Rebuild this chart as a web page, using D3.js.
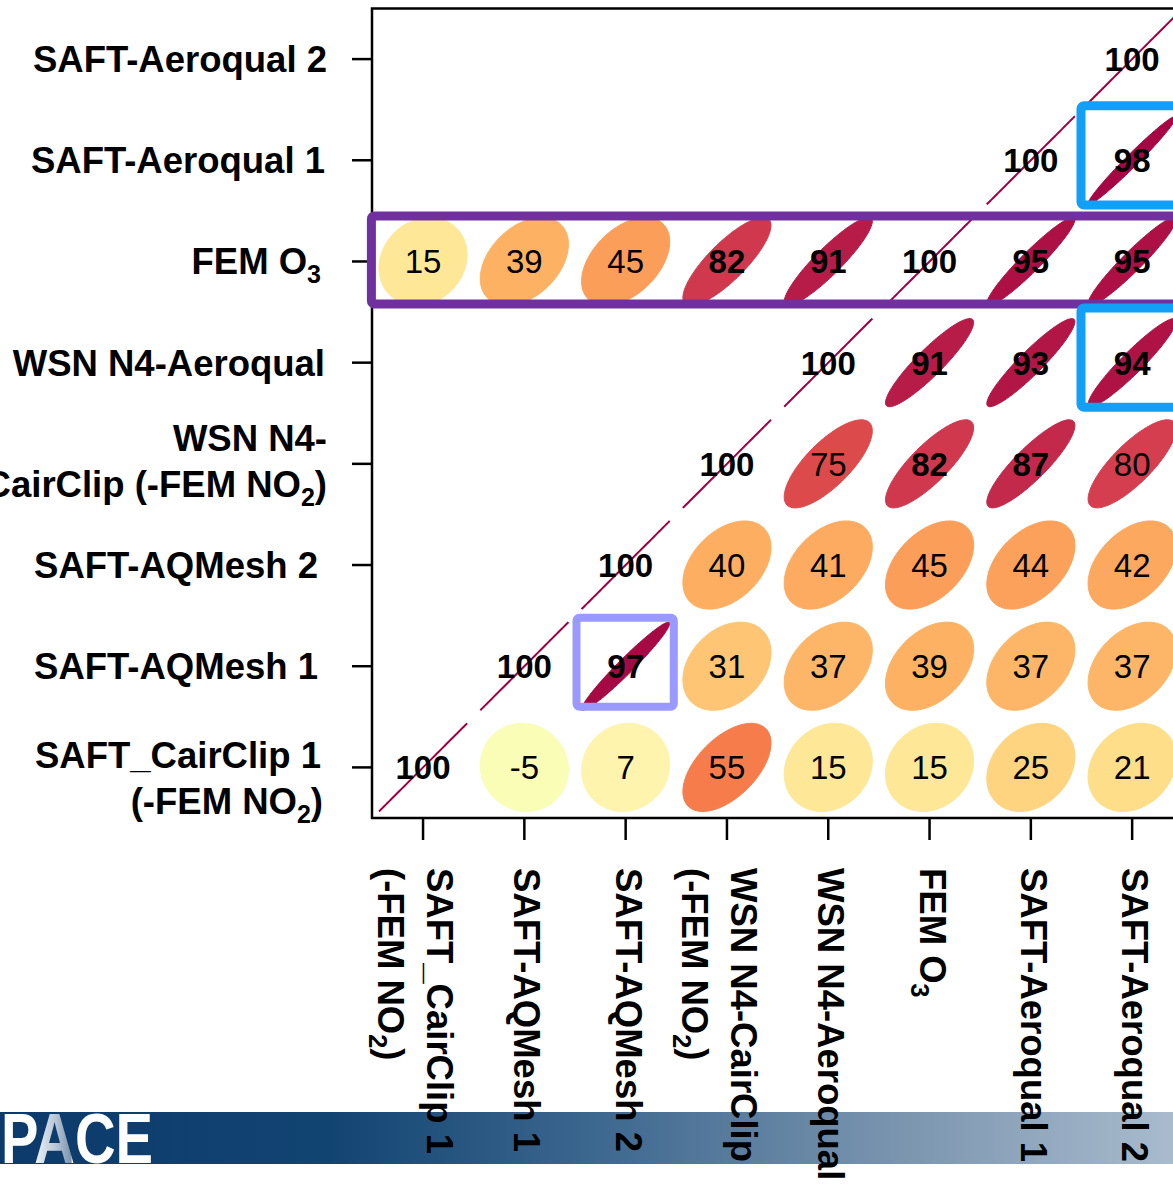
<!DOCTYPE html>
<html><head><meta charset="utf-8">
<script src="https://cdn.jsdelivr.net/npm/d3@7"></script>
<style>
html,body{margin:0;padding:0;background:#fff;overflow:hidden;}
svg{display:block;}
text{font-family:"Liberation Sans", Arial, sans-serif;}
</style></head><body>
<svg id="chart" width="1173" height="1187"></svg>
<script>
// ---------- data ----------
// column variables, left -> right ({x} = subscript, \n = line break)
const columnLabels = [
  "SAFT_CairClip 1\n(-FEM NO{2})",
  "SAFT-AQMesh 1",
  "SAFT-AQMesh 2",
  "WSN N4-CairClip\n(-FEM NO{2})",
  "WSN N4-Aeroqual",
  "FEM O{3}",
  "SAFT-Aeroqual 1",
  "SAFT-Aeroqual 2"
];
// row variables, top -> bottom
const rowLabels = [
  "SAFT-Aeroqual 2",
  "SAFT-Aeroqual 1",
  "FEM O{3}",
  "WSN N4-Aeroqual",
  "WSN N4-\nCairClip (-FEM NO{2})",
  "SAFT-AQMesh 2",
  "SAFT-AQMesh 1",
  "SAFT_CairClip 1\n(-FEM NO{2})"
];
// correlation (x100) shown in each row, columns left -> right (null = blank cell)
const rowSAFTAeroqual2 = [null, null, null, null, null, null, null, 100];
const rowSAFTAeroqual1 = [null, null, null, null, null, null, 100, 98];
const rowFEMO3         = [15, 39, 45, 82, 91, 100, 95, 95];
const rowWSNAeroqual   = [null, null, null, null, 100, 91, 93, 94];
const rowWSNCairClip   = [null, null, null, 100, 75, 82, 87, 80];
const rowSAFTAQMesh2   = [null, null, 100, 40, 41, 45, 44, 42];
const rowSAFTAQMesh1   = [null, 100, 97, 31, 37, 39, 37, 37];
const rowSAFTCairClip1 = [100, -5, 7, 55, 15, 15, 25, 21];
const rowValues = [rowSAFTAeroqual2, rowSAFTAeroqual1, rowFEMO3, rowWSNAeroqual,
                   rowWSNCairClip, rowSAFTAQMesh2, rowSAFTAQMesh1, rowSAFTCairClip1];
// highlighted cells [rowIndex, colIndex]
const highlightRow = 2;                       // FEM O3 row
const blueCells = [[1, 7], [3, 7]];
const lilacCells = [[6, 2]];
// colour palette (RColorBrewer Spectral, reversed) over r = -1..1
const paletteStops = ["#5e4fa2","#3288bd","#66c2a5","#abdda4","#e6f598","#ffffbf",
                      "#fee08b","#fdae61","#f46d43","#d53e4f","#9e0142"];

// ---------- build ----------
const cells = [];
rowValues.forEach((row, ri) => row.forEach((v, ci) => {
  if (v !== null) cells.push({ri, ci, v, r: v / 100});
}));

const svg = d3.select("#chart");
const W = 1173, H = 1187;

const x = d3.scaleBand().domain(d3.range(8)).range([372.4, 372.4 + 8 * 101.3]);
const y = d3.scaleBand().domain(d3.range(8)).range([8.5, 818]);
const bw = x.bandwidth(), bh = y.bandwidth();
const cx = i => x(i) + bw / 2;
const cy = j => y(j) + bh / 2;
const color = d3.scaleLinear()
  .domain(d3.range(11).map(k => -1 + k * 0.2))
  .range(paletteStops)
  .interpolate(d3.interpolateRgb);

// banner
const defs = svg.append("defs");
const bg = defs.append("linearGradient").attr("id", "bannerGrad")
  .attr("x1", "0%").attr("x2", "100%").attr("y1", "0%").attr("y2", "0%");
[[0, "#0b3a6b"], [0.28, "#124472"], [0.5, "#3b668e"], [0.75, "#7792ad"], [1, "#a9bbcd"]]
  .forEach(([o, c]) => bg.append("stop").attr("offset", o).attr("stop-color", c));
const ag = defs.append("linearGradient").attr("id", "logoGrad")
  .attr("x1", "0%").attr("x2", "100%").attr("y1", "0%").attr("y2", "0%");
[[0, "#ffffff"], [0.22, "#ffffff"], [0.24, "#e6ecf2"], [0.36, "#b8c6d5"], [0.46, "#7d95ae"],
 [0.47, "#ffffff"], [1, "#ffffff"]]
  .forEach(([o, c]) => ag.append("stop").attr("offset", o).attr("stop-color", c));

svg.append("rect").attr("x", 0).attr("y", 1112).attr("width", W).attr("height", 52)
  .attr("fill", "url(#bannerGrad)");
svg.append("text").attr("x", 1).attr("y", 1163)
  .attr("font-family", "'Liberation Sans Narrow', 'Liberation Sans', Arial, sans-serif")
  .attr("font-weight", "bold").attr("font-size", 71)
  .attr("textLength", 152).attr("lengthAdjust", "spacingAndGlyphs")
  .attr("fill", "url(#logoGrad)")
  .text("PACE");

// ellipses (corrplot style)
function ellipsePath(r, x0, y0, w) {
  const d = Math.acos(Math.max(-1, Math.min(1, r)));
  const pts = d3.range(100).map(k => {
    const t = 2 * Math.PI * k / 100;
    return [x0 + w * Math.cos(t + d / 2) / 2, y0 - w * Math.cos(t - d / 2) / 2];
  });
  return d3.line()(pts) + "Z";
}
svg.append("g").selectAll("path").data(cells).join("path")
  .attr("d", d => ellipsePath(d.r, cx(d.ci), cy(d.ri), bw * 0.87))
  .attr("fill", d => color(d.r))
  .attr("stroke", d => color(d.r))
  .attr("stroke-width", d => d.r >= 0.999 ? 2 : 1);

// numbers
svg.append("g").selectAll("text").data(cells).join("text")
  .attr("x", d => cx(d.ci)).attr("y", d => cy(d.ri) + 12)
  .attr("text-anchor", "middle")
  .attr("font-size", 33)
  .attr("font-weight", d => d.v >= 82 ? "bold" : "normal")
  .attr("fill", "#000")
  .text(d => d.v);

// frame + ticks
const frame = svg.append("g").attr("stroke", "#000").attr("stroke-width", 2.5).attr("fill", "none");
frame.append("path").attr("d", `M${W + 5},8.5 H372 V818 H${W + 5}`);
frame.selectAll(".xt").data(d3.range(8)).join("line")
  .attr("x1", cx).attr("x2", cx).attr("y1", 818).attr("y2", 840);
frame.selectAll(".yt").data(d3.range(8)).join("line")
  .attr("y1", cy).attr("y2", cy).attr("x1", 352).attr("x2", 372);

// highlight boxes
const boxes = svg.append("g").attr("fill", "none");
boxes.append("rect")
  .attr("x", x(0) - 1).attr("y", y(highlightRow) + 5)
  .attr("width", W + 20 - x(0)).attr("height", bh - 13)
  .attr("rx", 3).attr("stroke", "#7030a0").attr("stroke-width", 9);
boxes.selectAll(".blue").data(blueCells).join("rect")
  .attr("x", d => x(d[1]) - 0.5).attr("y", d => y(d[0]) - 4)
  .attr("width", bw + 20).attr("height", bh - 2)
  .attr("rx", 3).attr("stroke", "#12a0f7").attr("stroke-width", 9);
boxes.selectAll(".lilac").data(lilacCells).join("rect")
  .attr("x", d => x(d[1]) + 1.5).attr("y", d => y(d[0]) + 2)
  .attr("width", bw - 4).attr("height", bh - 12)
  .attr("rx", 3).attr("stroke", "#9999ff").attr("stroke-width", 8);

// rich text helper ({..} = subscript)
function rich(sel, str, subSize, shift) {
  let pending = 0;
  str.split(/(\{[^}]*\})/).forEach(p => {
    if (!p) return;
    if (p.startsWith("{")) {
      sel.append("tspan").attr("font-size", subSize).attr("dy", shift + pending).text(p.slice(1, -1));
      pending = -shift;
    } else {
      const t = sel.append("tspan").text(p);
      if (pending) t.attr("dy", pending);
      pending = 0;
    }
  });
}

const FS = 36.5, CAPH = 26;
// y-axis labels (right edge of each line, as placed in the reference)
const yShift = {4: -3, 7: 10.5};
const yRight = [[327], [325], [321], [325], [327, 327], [318], [318], [321, 323]];
rowLabels.forEach((lab, j) => {
  const lines = lab.split("\n");
  const mid = cy(j) + (lines.length > 1 ? (yShift[j] || 0) : 0);
  const sp = 46;
  lines.forEach((ln, k) => {
    const c = mid + (k - (lines.length - 1) / 2) * sp;
    const t = svg.append("text").attr("x", yRight[j][k]).attr("y", c + CAPH / 2)
      .attr("text-anchor", "end").attr("font-weight", "bold").attr("font-size", FS);
    rich(t, ln, 25, 9);
  });
});

// x-axis labels (rotated, reading downward)
columnLabels.forEach((lab, i) => {
  const lines = lab.split("\n");
  const mid = cx(i) + (lines.length > 1 ? -7.5 : 3);
  const sp = 49;
  lines.forEach((ln, k) => {
    const c = mid - (k - (lines.length - 1) / 2) * sp;
    const t = svg.append("text")
      .attr("transform", `translate(${c - CAPH / 2},868) rotate(90)`)
      .attr("font-weight", "bold").attr("font-size", FS);
    rich(t, ln, 25, 9);
  });
});
</script>
</body></html>
